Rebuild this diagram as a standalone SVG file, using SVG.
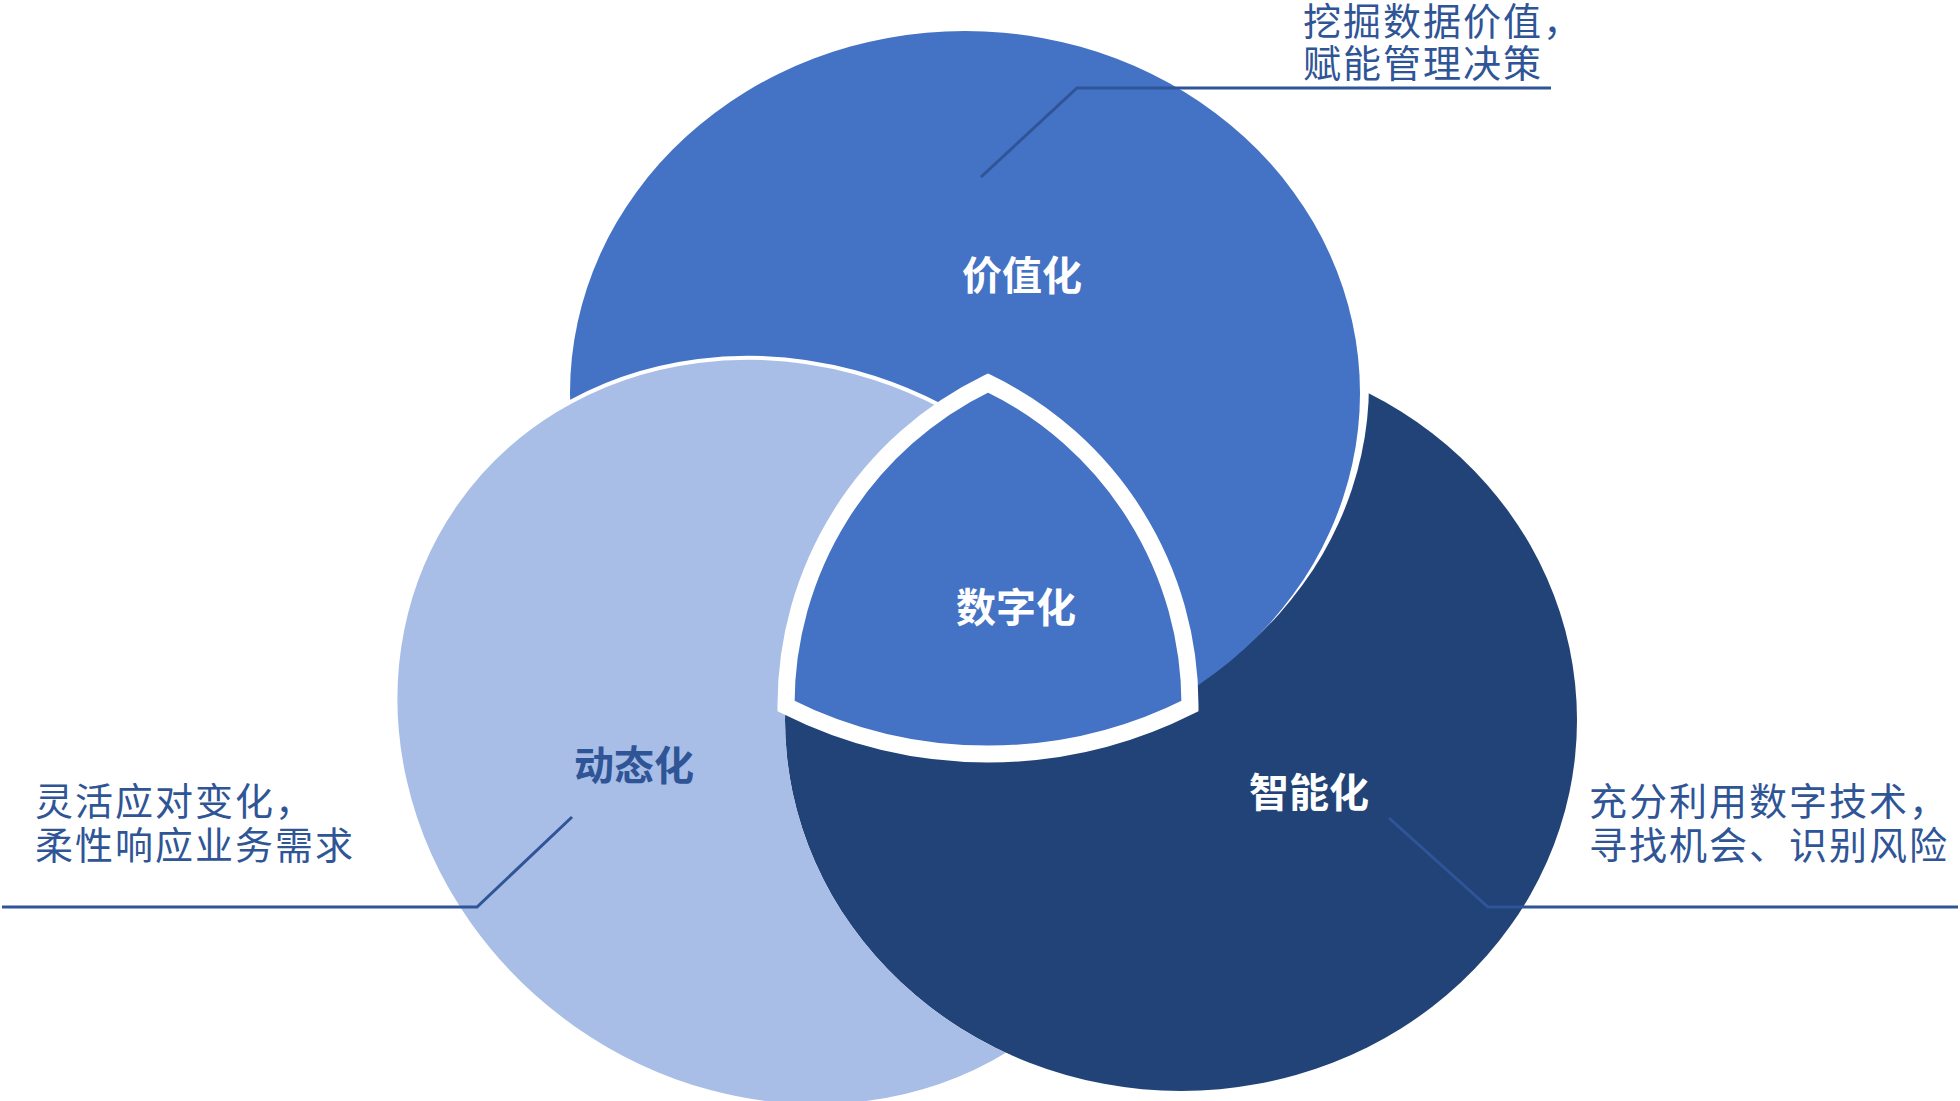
<svg xmlns="http://www.w3.org/2000/svg" width="1960" height="1101" viewBox="0 0 1960 1101">
  <style>
    .lbl { font-family: "Noto Sans CJK SC", "Noto Sans", sans-serif; font-weight: 700; font-size: 40px; text-anchor: middle; }
    .desc { font-family: "Noto Sans CJK SC", "Noto Sans", sans-serif; font-weight: 400; font-size: 38px; letter-spacing: 2px; fill: #2F5597; }
    .conn { fill: none; stroke: #2F5597; stroke-width: 3; stroke-linejoin: miter; }
  </style>
  <defs>
    <mask id="noDark" maskUnits="userSpaceOnUse" x="0" y="0" width="1960" height="1101">
      <rect x="0" y="0" width="1960" height="1101" fill="#fff"/>
      <ellipse cx="1181" cy="720" rx="396" ry="371" fill="#000"/>
    </mask>
    <clipPath id="aboveCenter">
      <path d="M0,0 H1960 V706 H1190 A449,449 0 0 1 786,706 H0 Z"/>
    </clipPath>
  </defs>
  <rect width="1960" height="1101" fill="#fff"/>

  <g id="node-dark">
    <ellipse cx="1181" cy="720" rx="396" ry="371" fill="#224378"/>
  </g>

  <g id="node-top">
    <ellipse cx="974" cy="384" rx="395" ry="362" fill="#fff"/>
    <ellipse cx="965" cy="393" rx="395" ry="362" fill="#4472C4" clip-path="url(#aboveCenter)"/>
  </g>

  <g id="node-light" mask="url(#noDark)">
    <ellipse cx="782" cy="732" rx="398" ry="362" transform="rotate(35 782 732)" fill="#A8BEE6" stroke="#fff" stroke-width="4"/>
  </g>

  <g id="node-center">
    <path d="M988,383 A358,358 0 0 0 786,706 A449,449 0 0 0 1190,706 A358,358 0 0 0 988,383 Z" fill="#4472C4" stroke="#fff" stroke-width="17" stroke-linejoin="miter"/>
  </g>

  <g id="connectors">
    <polyline class="conn" points="981,177 1077,88 1551,88"/>
    <polyline class="conn" points="2,907 477,907 572,817"/>
    <polyline class="conn" points="1389,818 1488,907 1958,907"/>
  </g>

  <g id="labels">
    <text class="lbl" x="1022" y="290" fill="#fff">价值化</text>
    <text class="lbl" x="1016" y="622" fill="#fff">数字化</text>
    <text class="lbl" x="634" y="780" fill="#2F5597">动态化</text>
    <text class="lbl" x="1309" y="807" fill="#fff">智能化</text>
  </g>

  <g id="descriptions">
    <text class="desc" x="1303" y="35">挖掘数据价值，</text>
    <text class="desc" x="1303" y="77">赋能管理决策</text>
    <text class="desc" x="35" y="815">灵活应对变化，</text>
    <text class="desc" x="35" y="859">柔性响应业务需求</text>
    <text class="desc" x="1589" y="815">充分利用数字技术，</text>
    <text class="desc" x="1589" y="859">寻找机会、识别风险</text>
  </g>
</svg>
